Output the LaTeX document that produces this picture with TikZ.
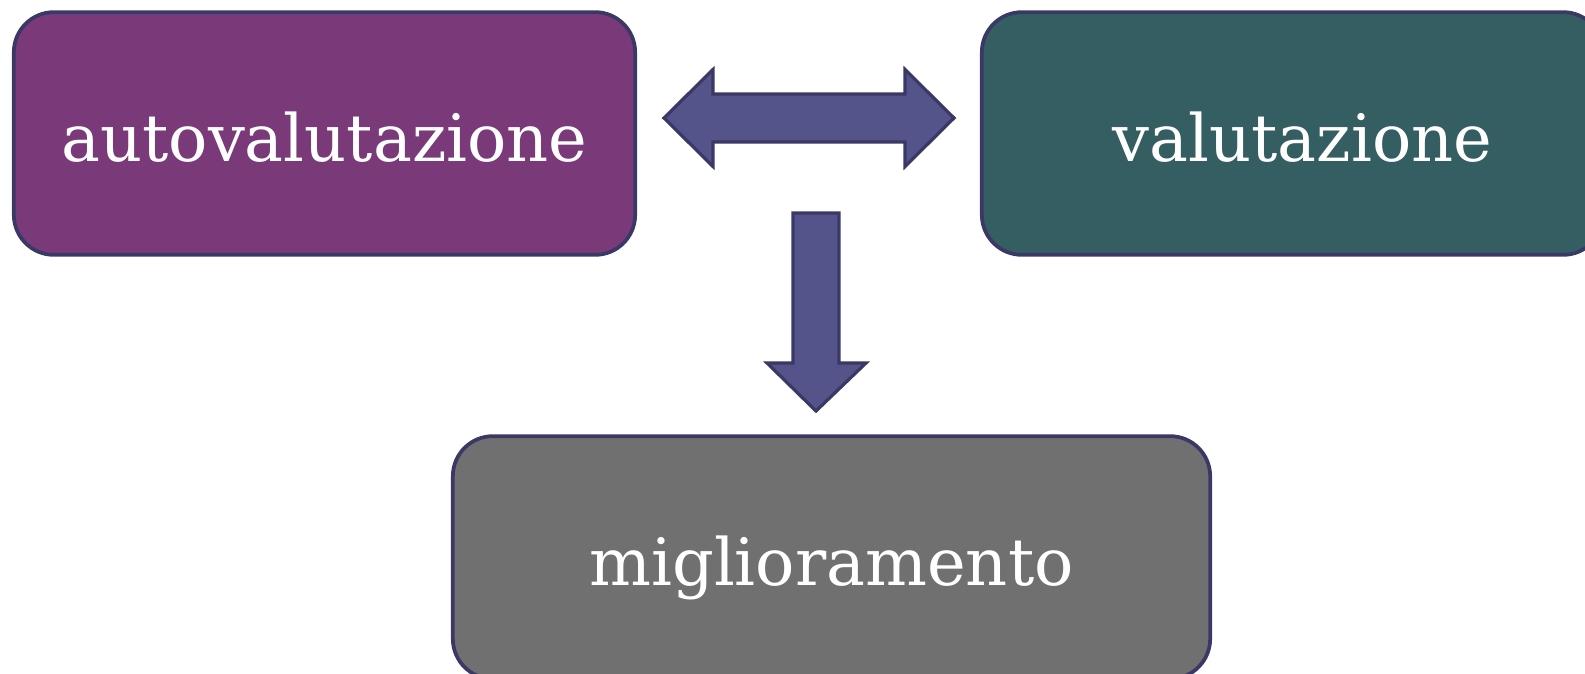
\documentclass[tikz,border=0pt]{standalone}
\usepackage{fontspec}
\setmainfont{DejaVu Serif}
\definecolor{boxpurple}{RGB}{122,58,122}
\definecolor{boxteal}{RGB}{52,94,98}
\definecolor{boxgray}{RGB}{112,112,112}
\definecolor{arrowfill}{RGB}{84,84,138}
\definecolor{edgeblue}{RGB}{58,56,100}
\tikzset{
  stepbox/.style={draw=edgeblue, line width=2.8pt, rounded corners=30pt,
    text=white, minimum height=182pt, inner sep=0pt,
    text height=44pt, text depth=2pt,
    font=\fontsize{49}{58}\selectfont},
  fatarrow/.style={draw=edgeblue, line width=2.4pt, fill=arrowfill, line join=miter}
}
\begin{document}
\begin{tikzpicture}[x=0.75pt, y=-0.75pt]
      \useasboundingbox (0,0) rectangle (1585,674);

      % Draw boxes
      \node[stepbox, fill=boxpurple, minimum width=466pt] (auto) at (324.5,133.5) {autovalutazione};
      \node[stepbox, fill=boxteal, minimum width=466pt] (valu) at (1292.5,133.5) {\hspace*{15pt}valutazione};
      \node[stepbox, fill=boxgray, minimum width=568pt] (migl) at (831.5,557.5) {miglioramento};

      % Double arrow between the two upper boxes
      \draw[fatarrow]
      (664,118) --
      (713,69.5) --
      (713,94) --
      (905,94) --
      (905,69.5) --
      (954,118) --
      (905,166.5) --
      (905,142) --
      (713,142) --
      (713,166.5) -- cycle;

      % Arrow down to the lower box
      \draw[fatarrow]
      (793,213) --
      (839,213) --
      (839,363) --
      (866,363) --
      (816,411) --
      (767,363) --
      (793,363) -- cycle;
    \end{tikzpicture}
\end{document}
